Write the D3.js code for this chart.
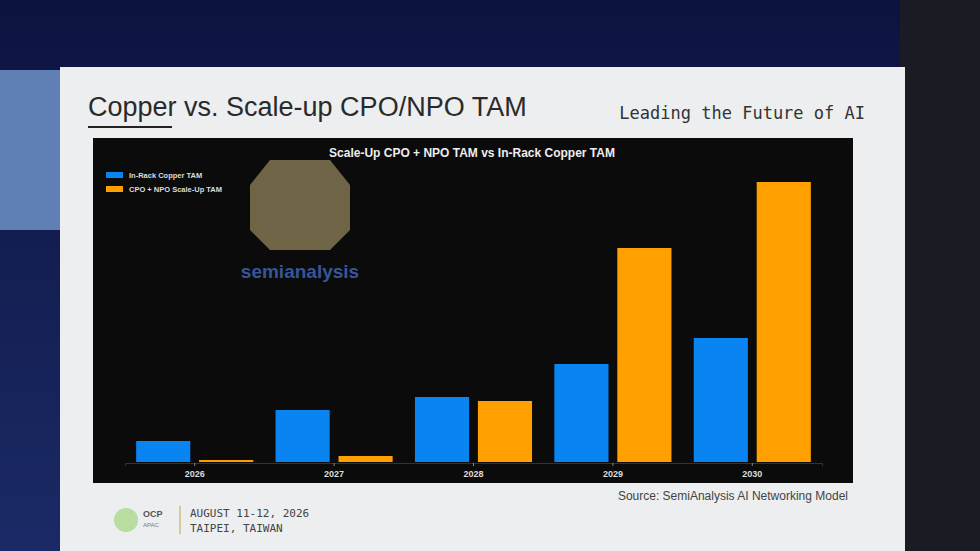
<!DOCTYPE html>
<html><head><meta charset="utf-8">
<script src="https://cdn.jsdelivr.net/npm/d3@7"></script>
<style>body{margin:0;background:#141a3a;overflow:hidden}</style>
</head><body>
<svg id="c" width="980" height="551"></svg>
<script>
const years = ["2026","2027","2028","2029","2030"];
const copperTAM = [21, 52, 65, 98, 124];
const cpoNpoTAM = [2, 6, 61, 214, 280];
const seriesNames = ["In-Rack Copper TAM","CPO + NPO Scale-Up TAM"];
const colors = ["#0a84f0","#ffa000"];

const svg = d3.select("#c");
const bg = svg.append("defs").append("linearGradient").attr("id","bg").attr("x1",0).attr("y1",0).attr("x2",0).attr("y2",1);
bg.append("stop").attr("offset",0).attr("stop-color","#0d1340");
bg.append("stop").attr("offset",1).attr("stop-color","#1b2a66");
svg.append("rect").attr("width",980).attr("height",551).attr("fill","url(#bg)");
svg.append("rect").attr("x",900).attr("y",0).attr("width",80).attr("height",551).attr("fill","#1a1c24");
svg.append("rect").attr("x",0).attr("y",70).attr("width",60).attr("height",160).attr("fill","#5f7fb5");
svg.append("rect").attr("x",60).attr("y",67).attr("width",845).attr("height",484).attr("fill","#eceef0");
svg.append("text").attr("x",88).attr("y",116).attr("font-family","Liberation Sans, Arial").attr("font-size",27).attr("fill","#2a2a2a").text("Copper vs. Scale-up CPO/NPO TAM");
svg.append("line").attr("x1",88).attr("x2",172).attr("y1",127).attr("y2",127).attr("stroke","#222").attr("stroke-width",2);
svg.append("text").attr("x",865).attr("y",119).attr("text-anchor","end").attr("font-family","DejaVu Sans Mono").attr("font-size",17).attr("fill","#333").text("Leading the Future of AI");

svg.append("rect").attr("x",93).attr("y",138).attr("width",760).attr("height",345).attr("fill","#0b0b0b");
svg.append("text").attr("x",472).attr("y",157).attr("text-anchor","middle").attr("font-family","Liberation Sans, Arial").attr("font-weight","bold").attr("font-size",12).attr("fill","#eee").text("Scale-Up CPO + NPO TAM vs In-Rack Copper TAM");

svg.append("path").attr("d","M270,160 L330,160 L350,185 L350,230 L330,250 L270,250 L250,230 L250,185 Z").attr("fill","#8a7a55").attr("opacity",0.8);
svg.append("text").attr("x",300).attr("y",278).attr("text-anchor","middle").attr("font-family","Liberation Sans, Arial").attr("font-weight","bold").attr("font-size",19).attr("fill","#3b5fa8").attr("opacity",0.9).text("semianalysis");

seriesNames.forEach((n,i)=>{
  svg.append("rect").attr("x",106).attr("y",172+i*14).attr("width",17).attr("height",6).attr("fill",colors[i]);
  svg.append("text").attr("x",129).attr("y",178+i*14).attr("font-family","Liberation Sans, Arial").attr("font-size",7.5).attr("font-weight","bold").attr("fill","#ddd").text(n);
});

const x = d3.scaleBand().domain(years).range([125,822]).paddingInner(0.16).paddingOuter(0.08);
const x1 = d3.scaleBand().domain([0,1]).range([0,x.bandwidth()]).paddingInner(0.14);
const y = d3.scaleLinear().domain([0,280]).range([462,182]);

const g = svg.append("g");
years.forEach((yr,i)=>{
  [copperTAM[i],cpoNpoTAM[i]].forEach((v,s)=>{
    g.append("rect").attr("x",x(yr)+x1(s)).attr("width",x1.bandwidth())
     .attr("y",y(v)).attr("height",Math.max(2,y(0)-y(v))).attr("fill",colors[s]);
  });
});
const ax = svg.append("g").attr("transform","translate(0,463)").call(d3.axisBottom(x).tickSize(3));
ax.select(".domain").attr("stroke","#333");
ax.selectAll("line").attr("stroke","#888");
ax.selectAll("text").attr("font-family","Liberation Sans, Arial").attr("font-weight","bold").attr("font-size",9).attr("fill","#ddd").attr("dy","0.9em");

svg.append("text").attr("x",848).attr("y",500).attr("text-anchor","end").attr("font-family","Liberation Sans Narrow, Arial").attr("font-size",12).attr("fill","#444").text("Source: SemiAnalysis AI Networking Model");
svg.append("circle").attr("cx",126).attr("cy",520).attr("r",12).attr("fill","#b9dca0");
svg.append("text").attr("x",143).attr("y",517).attr("font-family","Liberation Sans").attr("font-weight","bold").attr("font-size",9).attr("fill","#555").text("OCP");
svg.append("text").attr("x",143).attr("y",527).attr("font-family","Liberation Sans").attr("font-size",6).attr("fill","#777").text("APAC");
svg.append("line").attr("x1",180).attr("x2",180).attr("y1",506).attr("y2",534).attr("stroke","#c9a24a");
svg.append("text").attr("x",190).attr("y",517).attr("font-family","DejaVu Sans Mono").attr("font-size",11).attr("fill","#444").text("AUGUST 11-12, 2026");
svg.append("text").attr("x",190).attr("y",532).attr("font-family","DejaVu Sans Mono").attr("font-size",11).attr("fill","#444").text("TAIPEI, TAIWAN");
</script>
</body></html>
